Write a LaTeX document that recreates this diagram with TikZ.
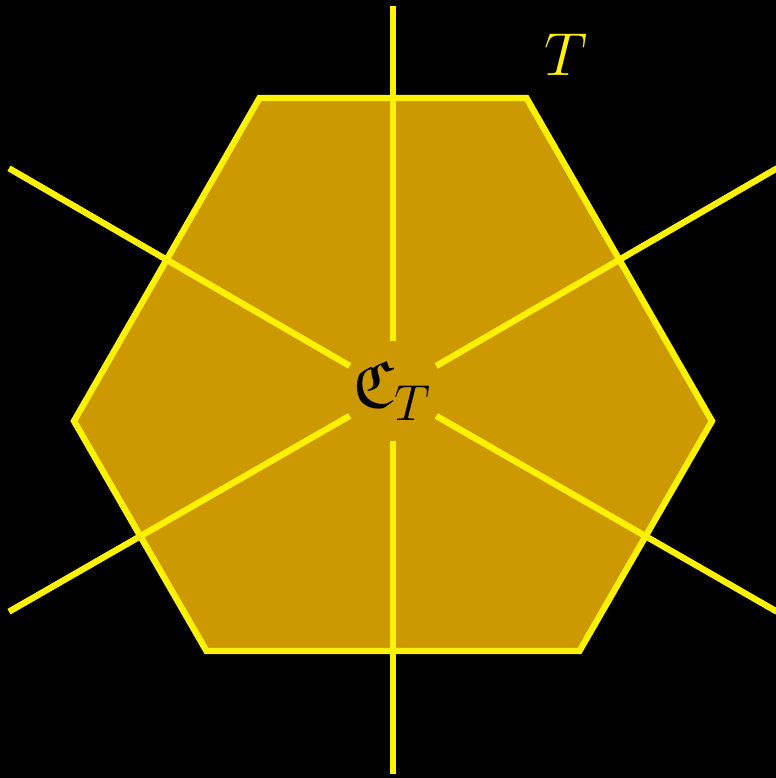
\documentclass[tikz,border=0pt]{standalone}
\usepackage{amssymb}
\definecolor{hexfill}{HTML}{CC9900}
\tikzset{ray/.style={yellow,line width=1.8pt}}

\begin{document}
\begin{tikzpicture}
\fill[black] (-3.930,3.900) rectangle (3.830,-3.880);
\useasboundingbox (-3.930,3.900) rectangle (3.830,-3.880);
\draw[yellow,fill=hexfill,line width=1.8pt] (-1.335,2.920) -- (1.335,2.920) -- (3.190,-0.310) -- (1.865,-2.610) -- (-1.865,-2.610) -- (-3.190,-0.310) -- cycle;
\node[circle,inner sep=0pt,minimum size=0.96cm,font=\fontsize{19}{23}\selectfont] (ctr) at (0.000,-0.010) {$\mathfrak{C}_T$};
\node[yellow,font=\fontsize{19}{23}\selectfont] (tlab) at (1.730,3.350) {$T$};
\coordinate (up) at (0.000,3.840);
\coordinate (upright) at (3.840,2.217);
\coordinate (downright) at (3.840,-2.217);
\coordinate (down) at (0.000,-3.840);
\coordinate (downleft) at (-3.840,-2.217);
\coordinate (upleft) at (-3.840,2.217);
\draw[ray] (ctr) -- (up);
\draw[ray] (ctr) -- (upright);
\draw[ray] (ctr) -- (downright);
\draw[ray] (ctr) -- (down);
\draw[ray] (ctr) -- (downleft);
\draw[ray] (ctr) -- (upleft);
\end{tikzpicture}
\end{document}
